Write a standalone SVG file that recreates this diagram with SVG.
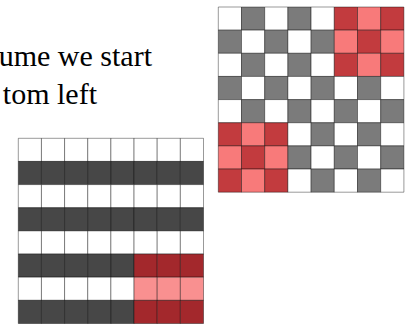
<svg xmlns="http://www.w3.org/2000/svg" width="414" height="325" viewBox="0 0 414 325">
<style>
rect{stroke:rgba(0,0,0,0.4);stroke-width:1;vector-effect:non-scaling-stroke}
.w{fill:#ffffff}
.g{fill:#7b7b7b}
.d{fill:#c23b3e}
.l{fill:#f87a7a}
.k{fill:#474747}
.r{fill:#a3282c}
.p{fill:#f99090}
</style>
<rect x="0" y="0" width="414" height="325" style="fill:#fff;stroke:none"/>
<g id="caption" font-family="'Liberation Serif', 'Times New Roman', Times, serif" font-size="30" fill="#000">
<text x="152" y="65.5" text-anchor="end">ume we start</text>
<text x="97" y="104" text-anchor="end">tom left</text>
</g>
<g id="checker-grid" transform="translate(218.3,7) scale(23.2,23.15)">
<rect class="w" x="0" y="0" width="1" height="1"/><rect class="g" x="1" y="0" width="1" height="1"/><rect class="w" x="2" y="0" width="1" height="1"/><rect class="g" x="3" y="0" width="1" height="1"/><rect class="w" x="4" y="0" width="1" height="1"/><rect class="d" x="5" y="0" width="1" height="1"/><rect class="l" x="6" y="0" width="1" height="1"/><rect class="d" x="7" y="0" width="1" height="1"/>
<rect class="g" x="0" y="1" width="1" height="1"/><rect class="w" x="1" y="1" width="1" height="1"/><rect class="g" x="2" y="1" width="1" height="1"/><rect class="w" x="3" y="1" width="1" height="1"/><rect class="g" x="4" y="1" width="1" height="1"/><rect class="l" x="5" y="1" width="1" height="1"/><rect class="d" x="6" y="1" width="1" height="1"/><rect class="l" x="7" y="1" width="1" height="1"/>
<rect class="w" x="0" y="2" width="1" height="1"/><rect class="g" x="1" y="2" width="1" height="1"/><rect class="w" x="2" y="2" width="1" height="1"/><rect class="g" x="3" y="2" width="1" height="1"/><rect class="w" x="4" y="2" width="1" height="1"/><rect class="d" x="5" y="2" width="1" height="1"/><rect class="l" x="6" y="2" width="1" height="1"/><rect class="d" x="7" y="2" width="1" height="1"/>
<rect class="g" x="0" y="3" width="1" height="1"/><rect class="w" x="1" y="3" width="1" height="1"/><rect class="g" x="2" y="3" width="1" height="1"/><rect class="w" x="3" y="3" width="1" height="1"/><rect class="g" x="4" y="3" width="1" height="1"/><rect class="w" x="5" y="3" width="1" height="1"/><rect class="g" x="6" y="3" width="1" height="1"/><rect class="w" x="7" y="3" width="1" height="1"/>
<rect class="w" x="0" y="4" width="1" height="1"/><rect class="g" x="1" y="4" width="1" height="1"/><rect class="w" x="2" y="4" width="1" height="1"/><rect class="g" x="3" y="4" width="1" height="1"/><rect class="w" x="4" y="4" width="1" height="1"/><rect class="g" x="5" y="4" width="1" height="1"/><rect class="w" x="6" y="4" width="1" height="1"/><rect class="g" x="7" y="4" width="1" height="1"/>
<rect class="d" x="0" y="5" width="1" height="1"/><rect class="l" x="1" y="5" width="1" height="1"/><rect class="d" x="2" y="5" width="1" height="1"/><rect class="w" x="3" y="5" width="1" height="1"/><rect class="g" x="4" y="5" width="1" height="1"/><rect class="w" x="5" y="5" width="1" height="1"/><rect class="g" x="6" y="5" width="1" height="1"/><rect class="w" x="7" y="5" width="1" height="1"/>
<rect class="l" x="0" y="6" width="1" height="1"/><rect class="d" x="1" y="6" width="1" height="1"/><rect class="l" x="2" y="6" width="1" height="1"/><rect class="g" x="3" y="6" width="1" height="1"/><rect class="w" x="4" y="6" width="1" height="1"/><rect class="g" x="5" y="6" width="1" height="1"/><rect class="w" x="6" y="6" width="1" height="1"/><rect class="g" x="7" y="6" width="1" height="1"/>
<rect class="d" x="0" y="7" width="1" height="1"/><rect class="l" x="1" y="7" width="1" height="1"/><rect class="d" x="2" y="7" width="1" height="1"/><rect class="w" x="3" y="7" width="1" height="1"/><rect class="g" x="4" y="7" width="1" height="1"/><rect class="w" x="5" y="7" width="1" height="1"/><rect class="g" x="6" y="7" width="1" height="1"/><rect class="w" x="7" y="7" width="1" height="1"/>
</g>
<g id="stripe-grid" transform="translate(18.3,138.3) scale(23.15,23.15)">
<rect class="w" x="0" y="0" width="1" height="1"/><rect class="w" x="1" y="0" width="1" height="1"/><rect class="w" x="2" y="0" width="1" height="1"/><rect class="w" x="3" y="0" width="1" height="1"/><rect class="w" x="4" y="0" width="1" height="1"/><rect class="w" x="5" y="0" width="1" height="1"/><rect class="w" x="6" y="0" width="1" height="1"/><rect class="w" x="7" y="0" width="1" height="1"/>
<rect class="k" x="0" y="1" width="1" height="1"/><rect class="k" x="1" y="1" width="1" height="1"/><rect class="k" x="2" y="1" width="1" height="1"/><rect class="k" x="3" y="1" width="1" height="1"/><rect class="k" x="4" y="1" width="1" height="1"/><rect class="k" x="5" y="1" width="1" height="1"/><rect class="k" x="6" y="1" width="1" height="1"/><rect class="k" x="7" y="1" width="1" height="1"/>
<rect class="w" x="0" y="2" width="1" height="1"/><rect class="w" x="1" y="2" width="1" height="1"/><rect class="w" x="2" y="2" width="1" height="1"/><rect class="w" x="3" y="2" width="1" height="1"/><rect class="w" x="4" y="2" width="1" height="1"/><rect class="w" x="5" y="2" width="1" height="1"/><rect class="w" x="6" y="2" width="1" height="1"/><rect class="w" x="7" y="2" width="1" height="1"/>
<rect class="k" x="0" y="3" width="1" height="1"/><rect class="k" x="1" y="3" width="1" height="1"/><rect class="k" x="2" y="3" width="1" height="1"/><rect class="k" x="3" y="3" width="1" height="1"/><rect class="k" x="4" y="3" width="1" height="1"/><rect class="k" x="5" y="3" width="1" height="1"/><rect class="k" x="6" y="3" width="1" height="1"/><rect class="k" x="7" y="3" width="1" height="1"/>
<rect class="w" x="0" y="4" width="1" height="1"/><rect class="w" x="1" y="4" width="1" height="1"/><rect class="w" x="2" y="4" width="1" height="1"/><rect class="w" x="3" y="4" width="1" height="1"/><rect class="w" x="4" y="4" width="1" height="1"/><rect class="w" x="5" y="4" width="1" height="1"/><rect class="w" x="6" y="4" width="1" height="1"/><rect class="w" x="7" y="4" width="1" height="1"/>
<rect class="k" x="0" y="5" width="1" height="1"/><rect class="k" x="1" y="5" width="1" height="1"/><rect class="k" x="2" y="5" width="1" height="1"/><rect class="k" x="3" y="5" width="1" height="1"/><rect class="k" x="4" y="5" width="1" height="1"/><rect class="r" x="5" y="5" width="1" height="1"/><rect class="r" x="6" y="5" width="1" height="1"/><rect class="r" x="7" y="5" width="1" height="1"/>
<rect class="w" x="0" y="6" width="1" height="1"/><rect class="w" x="1" y="6" width="1" height="1"/><rect class="w" x="2" y="6" width="1" height="1"/><rect class="w" x="3" y="6" width="1" height="1"/><rect class="w" x="4" y="6" width="1" height="1"/><rect class="p" x="5" y="6" width="1" height="1"/><rect class="p" x="6" y="6" width="1" height="1"/><rect class="p" x="7" y="6" width="1" height="1"/>
<rect class="k" x="0" y="7" width="1" height="1"/><rect class="k" x="1" y="7" width="1" height="1"/><rect class="k" x="2" y="7" width="1" height="1"/><rect class="k" x="3" y="7" width="1" height="1"/><rect class="k" x="4" y="7" width="1" height="1"/><rect class="r" x="5" y="7" width="1" height="1"/><rect class="r" x="6" y="7" width="1" height="1"/><rect class="r" x="7" y="7" width="1" height="1"/>
</g>
</svg>
